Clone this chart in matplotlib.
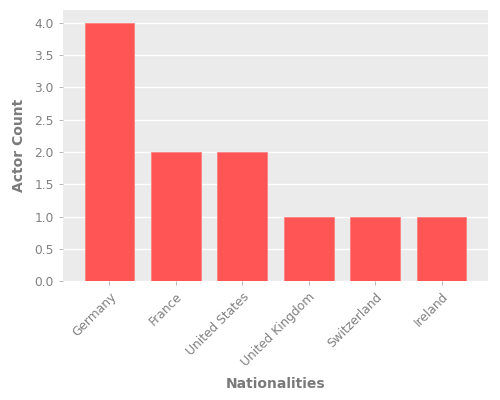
import numpy as np
import matplotlib.pyplot as plt

countries = ["Germany", "France", "United States", "United Kingdom", "Switzerland", "Ireland"]
counts = [4, 2, 2, 1, 1, 1]

fig, ax = plt.subplots(figsize=(5, 4), dpi=100)
fig.subplots_adjust(left=0.126, right=0.976, top=0.975, bottom=0.297)

ax.set_facecolor("#EBEBEB")
x = np.arange(len(countries))
ax.bar(x, counts, width=0.75, color="#FF5555", edgecolor="#FF8080", linewidth=0.6, zorder=3)

ax.set_xlim(-0.7, 5.7)
ax.set_ylim(0, 4.2)
ax.set_yticks(np.arange(0, 4.01, 0.5))
ax.grid(axis="y", color="white", linewidth=1, zorder=0)
ax.set_xticks(x)
ax.set_xticklabels(countries, rotation=45, ha="right", rotation_mode="anchor")

for s in ax.spines.values():
    s.set_visible(False)
ax.tick_params(colors="#AAAAAA", labelcolor="#808080", labelsize=8.8, length=3, width=0.6)

ax.set_xlabel("Nationalities", fontsize=10, fontweight="bold", color="#7A7A7A", labelpad=6)
ax.set_ylabel("Actor Count", fontsize=10, fontweight="bold", color="#7A7A7A", labelpad=6)

plt.savefig("out.png")
